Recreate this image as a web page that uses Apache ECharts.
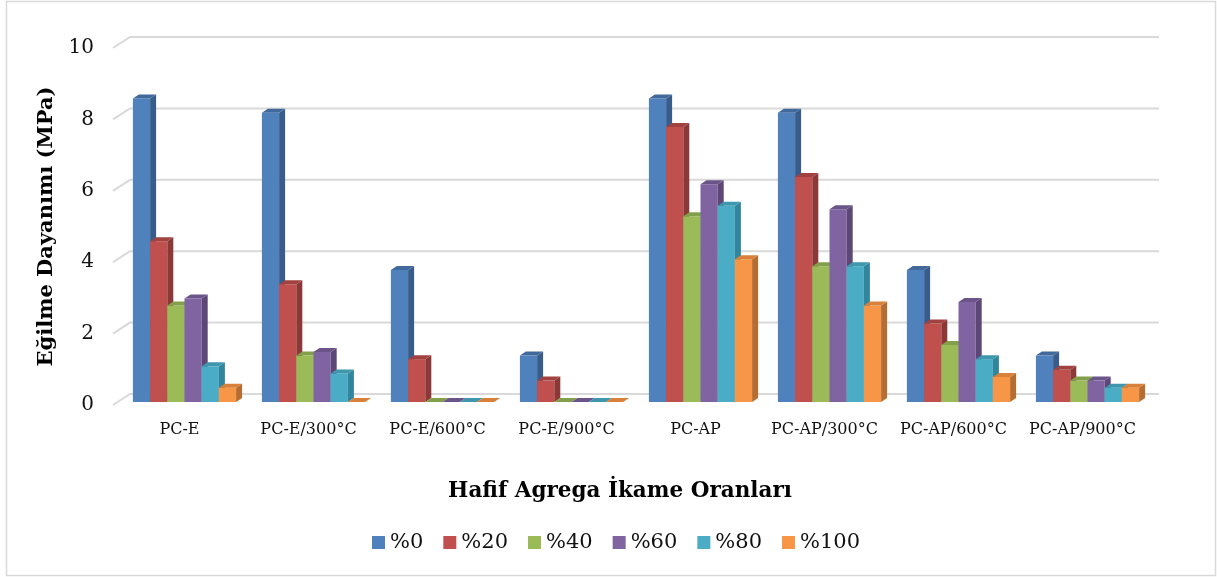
<!DOCTYPE html>
<html>
<head>
<meta charset="utf-8">
<script src="https://cdn.jsdelivr.net/npm/echarts@6/dist/echarts.min.js"></script>
<style>
  html, body { margin: 0; padding: 0; background: #ffffff; }
  #chart { width: 1217px; height: 577px; }
</style>
</head>
<body>
<div id="chart"></div>
<script>
// Categories and flexural strength values (MPa) for each replacement ratio
const categories = ['PC-E', 'PC-E/300°C', 'PC-E/600°C', 'PC-E/900°C', 'PC-AP', 'PC-AP/300°C', 'PC-AP/600°C', 'PC-AP/900°C'];
const seriesNames = ['%0', '%20', '%40', '%60', '%80', '%100'];
const s0   = [8.5, 8.1, 3.7, 1.3, 8.5, 8.1, 3.7, 1.3];
const s20  = [4.5, 3.3, 1.2, 0.6, 7.7, 6.3, 2.2, 0.9];
const s40  = [2.7, 1.3, 0.0, 0.0, 5.2, 3.8, 1.6, 0.6];
const s60  = [2.9, 1.4, 0.0, 0.0, 6.1, 5.4, 2.8, 0.6];
const s80  = [1.0, 0.8, 0.0, 0.0, 5.5, 3.8, 1.2, 0.4];
const s100 = [0.4, 0.0, 0.0, 0.0, 4.0, 2.7, 0.7, 0.4];
const yTicks = [0, 2, 4, 6, 8, 10];

const seriesValues = [s0, s20, s40, s60, s80, s100];

// Face colours for the pseudo-3D columns
const frontColors = ['#4f81bd', '#c0504d', '#9bbb59', '#8064a2', '#4bacc6', '#f79646'];
const sideColors  = ['#385d8a', '#8c3836', '#71893f', '#5c4776', '#31859c', '#b66d31'];
const topColors   = ['#41699c', '#a24240', '#82a04a', '#6b5489', '#3e97ae', '#d9803a'];

// Depth geometry: back wall offset and column depth
const WALL_DX = 17, WALL_DY = 11;
const BAR_OX = 5, BAR_OY = -3;
const SIDE_DX = 6, SIDE_DY = 4;
const GROUP_FRACTION = 0.8;

const FONT = 'DejaVu Serif';

function columnRenderer(sIdx) {
  return function (params, api) {
    const ci = api.value(0);
    const v = api.value(1);
    const base = api.coord([ci, 0]);
    const top = api.coord([ci, v]);
    const band = api.size([1, 0])[0];
    const bw = band * GROUP_FRACTION / seriesNames.length;
    const xL = base[0] - band * GROUP_FRACTION / 2 + sIdx * bw + BAR_OX;
    const xR = xL + bw;
    const yB = base[1] + BAR_OY;
    const yT = top[1] + BAR_OY;
    const children = [];
    if (yB - yT > 0.01) {
      children.push({
        type: 'rect',
        shape: { x: xL, y: yT, width: bw, height: yB - yT },
        style: { fill: frontColors[sIdx] }
      });
    }
    children.push({
      type: 'polygon',
      shape: { points: [[xR, yT], [xR + SIDE_DX, yT - SIDE_DY], [xR + SIDE_DX, yB - SIDE_DY], [xR, yB]] },
      style: { fill: sideColors[sIdx] }
    });
    children.push({
      type: 'polygon',
      shape: { points: [[xL, yT], [xL + SIDE_DX, yT - SIDE_DY], [xR + SIDE_DX, yT - SIDE_DY], [xR, yT]] },
      style: { fill: topColors[sIdx] }
    });
    return { type: 'group', children: children };
  };
}

// Back-wall gridlines with the slanted edge on the left side wall
function gridRenderer(params, api) {
  const v = api.value(1);
  const band = api.size([1, 0])[0];
  const left = api.coord([0, v]);
  const right = api.coord([categories.length - 1, v]);
  const x0 = left[0] - band / 2;
  const x1 = right[0] + band / 2;
  const y = left[1];
  return {
    type: 'polyline',
    shape: { points: [[x0 - 2, y], [x0 - 2 + WALL_DX, y - WALL_DY], [x1 + 12, y - WALL_DY]] },
    style: { stroke: '#d9d9d9', lineWidth: 2, fill: null }
  };
}

const series = [{
  type: 'custom',
  name: 'grid',
  silent: true,
  z: 1,
  renderItem: gridRenderer,
  encode: { x: 0, y: 1 },
  data: yTicks.map(v => [0, v])
}];

seriesNames.forEach((name, i) => {
  series.push({
    type: 'custom',
    name: name,
    z: 2 + i,
    itemStyle: { color: frontColors[i] },
    renderItem: columnRenderer(i),
    encode: { x: 0, y: 1 },
    data: seriesValues[i].map((v, ci) => [ci, v])
  });
});

const chart = echarts.init(document.getElementById('chart'), null, { renderer: 'canvas' });
chart.setOption({
  backgroundColor: '#ffffff',
  animation: false,
  textStyle: { fontFamily: FONT },
  grid: { left: 115, right: 70, top: 48, bottom: 172, containLabel: false },
  xAxis: {
    type: 'category',
    data: categories,
    axisLine: { show: false },
    axisTick: { show: false },
    axisLabel: { interval: 0, hideOverlap: false, fontFamily: FONT, fontSize: 16, color: '#111', margin: 17 },
    splitLine: { show: false }
  },
  yAxis: {
    type: 'value',
    min: 0,
    max: 10,
    interval: 2,
    name: 'Eğilme Dayanımı (MPa)',
    nameLocation: 'middle',
    nameRotate: 90,
    nameGap: 58,
    nameTextStyle: { fontFamily: FONT, fontSize: 21, fontWeight: 'bold', color: '#000' },
    axisLine: { show: false },
    axisTick: { show: false },
    axisLabel: { fontFamily: FONT, fontSize: 20, color: '#111', margin: 21, padding: [6, 0, 0, 0] },
    splitLine: { show: false }
  },
  legend: {
    data: seriesNames,
    left: 367,
    top: 527,
    icon: 'rect',
    itemWidth: 13,
    itemHeight: 13,
    itemGap: 20,
    textStyle: { fontFamily: FONT, fontSize: 21, color: '#111' }
  },
  graphic: [
    {
      type: 'rect',
      shape: { x: 6.5, y: 1.5, width: 1209, height: 574 },
      style: { fill: null, stroke: '#d9d9d9', lineWidth: 1.5 },
      z: 0
    },
    {
      type: 'text',
      x: 620,
      y: 491,
      style: {
        text: 'Hafif Agrega İkame Oranları',
        font: 'bold 21.5px "DejaVu Serif"',
        fill: '#000',
        align: 'center',
        verticalAlign: 'middle'
      }
    }
  ],
  series: series
});
</script>
</body>
</html>
